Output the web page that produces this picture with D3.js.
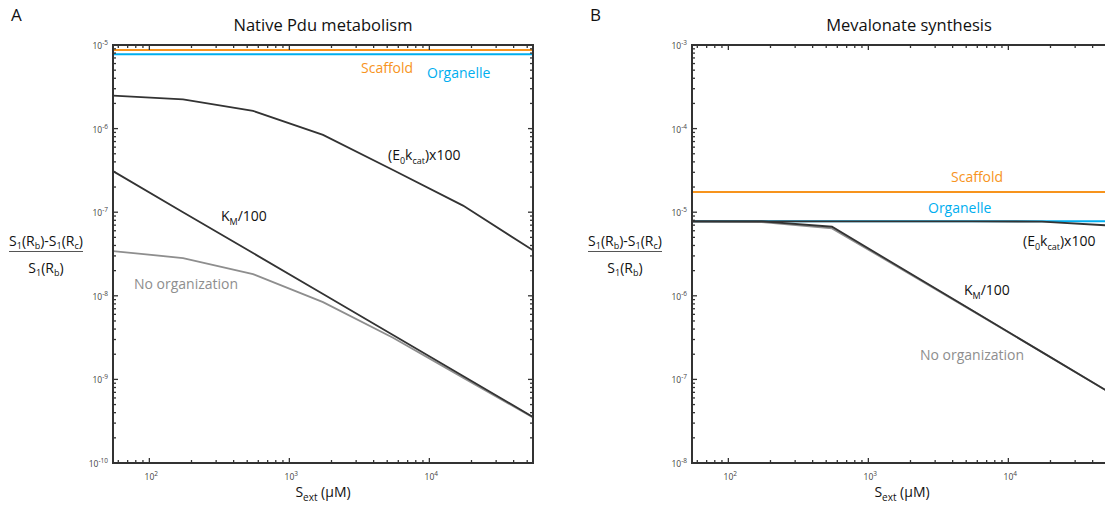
<!DOCTYPE html>
<html>
<head>
<meta charset="utf-8">
<script src="https://cdn.jsdelivr.net/npm/d3@7"></script>
<style>
  body { margin: 0; background: #fff; }
  text { font-family: "Open Sans", "Noto Sans", sans-serif; }
</style>
</head>
<body>
<div id="chart"></div>
<script>
// substrate concentrations (uM), half-decade steps
const sExt = [55, 174, 550, 1740, 5500, 17400, 55000];

// panel A: native Pdu metabolism
const pduScaffold = 8.7e-6;
const pduOrganelle = 7.75e-6;
const pduKcat = [2.48e-6, 2.24e-6, 1.63e-6, 8.4e-7, 3.2e-7, 1.2e-7, 3.5e-8];
const pduKm = [3.1e-7, 1.0e-7, 3.25e-8, 1.05e-8, 3.4e-9, 1.1e-9, 3.55e-10];
const pduNone = [3.43e-8, 2.83e-8, 1.82e-8, 8.4e-9, 3.15e-9, 1.05e-9, 3.5e-10];

// panel B: mevalonate synthesis
const mevScaffold = 1.75e-5;
const mevOrganelle = 7.78e-6;
const mevKcat = [7.78e-6, 7.78e-6, 7.78e-6, 7.78e-6, 7.77e-6, 7.72e-6, 6.9e-6];
const mevKm = [7.78e-6, 7.75e-6, 6.7e-6, 2.12e-6, 6.7e-7, 2.12e-7, 6.7e-8];
const mevNone = [7.7e-6, 7.6e-6, 6.4e-6, 2.07e-6, 6.65e-7, 2.11e-7, 6.7e-8];

const xDomain = [55, 55000];
const pduY = [1e-10, 1e-5];
const mevY = [1e-8, 1e-3];

const width = 1105, height = 508;
const orange = "#f7941d", blue = "#00aeef", dark = "#333", grey = "#8e8e8e";

let svg = d3.select("#chart")
    .append("svg")
    .attr("width", width)
    .attr("height", height);

function panel(opt) {
    const left = opt.left, top = 45, w = 420, h = 418;

    let x = d3.scaleLog().domain(xDomain).range([left, left + w]);
    let y = d3.scaleLog().domain(opt.yDomain).range([top + h, top]);

    let g = svg.append("g");

    g.append("clipPath").attr("id", "clip" + opt.id)
      .append("rect").attr("x", left).attr("y", top).attr("width", w).attr("height", h);

    let plot = g.append("g").attr("clip-path", `url(#clip${opt.id})`);

    // horizontal reference lines
    plot.append("line")
        .attr("x1", left).attr("x2", left + w)
        .attr("y1", y(opt.scaffold)).attr("y2", y(opt.scaffold))
        .attr("stroke", orange).attr("stroke-width", 2);
    plot.append("line")
        .attr("x1", left).attr("x2", left + w)
        .attr("y1", y(opt.organelle)).attr("y2", y(opt.organelle))
        .attr("stroke", blue).attr("stroke-width", 2);

    const line = d3.line().x((d, i) => x(sExt[i])).y(d => y(d));

    plot.append("path").datum(opt.none)
        .attr("d", line).attr("fill", "none")
        .attr("stroke", grey).attr("stroke-width", 1.8);
    plot.append("path").datum(opt.km)
        .attr("d", line).attr("fill", "none")
        .attr("stroke", dark).attr("stroke-width", 1.8);
    plot.append("path").datum(opt.kcat)
        .attr("d", line).attr("fill", "none")
        .attr("stroke", dark).attr("stroke-width", 1.8);

    // ticks on all four sides, pointing in
    const isMajor = v => Math.abs(Math.log10(v) - Math.round(Math.log10(v))) < 1e-6;
    const xt = x.ticks(), yt = y.ticks();

    const tick = (sel, vals, make) => sel.selectAll(null).data(vals).join("line")
        .each(function (d) { make(d3.select(this), d, isMajor(d) ? 5 : 3); })
        .attr("stroke", dark).attr("stroke-width", 1.3);

    let ticks = g.append("g");
    tick(ticks, xt, (s, d, l) => s.attr("x1", x(d)).attr("x2", x(d)).attr("y1", top + h).attr("y2", top + h - l));
    tick(ticks, xt, (s, d, l) => s.attr("x1", x(d)).attr("x2", x(d)).attr("y1", top).attr("y2", top + l));
    tick(ticks, yt, (s, d, l) => s.attr("y1", y(d)).attr("y2", y(d)).attr("x1", left).attr("x2", left + l));
    tick(ticks, yt, (s, d, l) => s.attr("y1", y(d)).attr("y2", y(d)).attr("x1", left + w).attr("x2", left + w - l));

    g.append("rect")
        .attr("x", left).attr("y", top).attr("width", w).attr("height", h)
        .attr("fill", "none").attr("stroke", dark).attr("stroke-width", 2);

    // tick labels 10^n
    const lab = (sel, vals, xf, yf, anchor) => {
        let t = sel.selectAll(null).data(vals.filter(isMajor)).join("text")
            .attr("x", xf).attr("y", yf)
            .attr("text-anchor", anchor)
            .attr("font-size", 8.5).attr("fill", "#444");
        t.append("tspan").text("10");
        t.append("tspan").attr("dy", -4).attr("font-size", 6.5)
            .text(d => Math.round(Math.log10(d)) < 0 ? "-" + Math.abs(Math.round(Math.log10(d))) : Math.round(Math.log10(d)));
    };
    lab(g, xt, d => x(d) + 2, top + h + 17, "middle");
    lab(g, yt, left - 5, d => y(d) + 4, "end");

    // titles and axis labels
    g.append("text").attr("x", opt.titleX).attr("y", 31)
        .attr("text-anchor", "middle").attr("font-size", 16.5).attr("fill", "#111")
        .text(opt.title);
    g.append("text").attr("x", opt.letterX).attr("y", 21)
        .attr("font-size", 17).attr("fill", "#111").text(opt.letter);

    let xl = g.append("text").attr("x", left + w / 2).attr("y", 497)
        .attr("text-anchor", "middle").attr("font-size", 14).attr("fill", "#111");
    xl.append("tspan").text("S");
    xl.append("tspan").attr("dy", 4).attr("font-size", 10).text("ext");
    xl.append("tspan").attr("dy", -4).text(" (μM)");

    // y label as a fraction
    const cx = left - 67;
    let num = g.append("text").attr("x", cx).attr("y", 246)
        .attr("text-anchor", "middle").attr("font-size", 14).attr("fill", "#111");
    num.append("tspan").text("S");
    num.append("tspan").attr("dy", 3).attr("font-size", 9).text("1");
    num.append("tspan").attr("dy", -3).text("(R");
    num.append("tspan").attr("dy", 3).attr("font-size", 9).text("b");
    num.append("tspan").attr("dy", -3).text(")-S");
    num.append("tspan").attr("dy", 3).attr("font-size", 9).text("1");
    num.append("tspan").attr("dy", -3).text("(R");
    num.append("tspan").attr("dy", 3).attr("font-size", 9).text("c");
    num.append("tspan").attr("dy", -3).text(")");
    g.append("line").attr("x1", cx - 37).attr("x2", cx + 37)
        .attr("y1", 251.5).attr("y2", 251.5).attr("stroke", "#555").attr("stroke-width", 1);
    let den = g.append("text").attr("x", cx).attr("y", 273)
        .attr("text-anchor", "middle").attr("font-size", 14).attr("fill", "#111");
    den.append("tspan").text("S");
    den.append("tspan").attr("dy", 3).attr("font-size", 9).text("1");
    den.append("tspan").attr("dy", -3).text("(R");
    den.append("tspan").attr("dy", 3).attr("font-size", 9).text("b");
    den.append("tspan").attr("dy", -3).text(")");

    // curve labels
    const note = (t, xp, yp, col) => g.append("text").attr("x", xp).attr("y", yp)
        .attr("font-size", 14).attr("fill", col).text(t);
    note("Scaffold", opt.lab.scaffold[0], opt.lab.scaffold[1], orange);
    note("Organelle", opt.lab.organelle[0], opt.lab.organelle[1], blue);
    note("No organization", opt.lab.none[0], opt.lab.none[1], grey);

    let kc = g.append("text").attr("x", opt.lab.kcat[0]).attr("y", opt.lab.kcat[1])
        .attr("font-size", 14).attr("fill", "#111");
    kc.append("tspan").text("(E");
    kc.append("tspan").attr("dy", 4).attr("font-size", 9).text("0");
    kc.append("tspan").attr("dy", -4).text("k");
    kc.append("tspan").attr("dy", 4).attr("font-size", 9).text("cat");
    kc.append("tspan").attr("dy", -4).text(")x100");

    let km = g.append("text").attr("x", opt.lab.km[0]).attr("y", opt.lab.km[1])
        .attr("font-size", 14).attr("fill", "#111");
    km.append("tspan").text("K");
    km.append("tspan").attr("dy", 4).attr("font-size", 9).text("M");
    km.append("tspan").attr("dy", -4).text("/100");
}

panel({
    id: "A", left: 113, yDomain: pduY, title: "Native Pdu metabolism", titleX: 323,
    letter: "A", letterX: 11,
    scaffold: pduScaffold, organelle: pduOrganelle,
    kcat: pduKcat, km: pduKm, none: pduNone,
    lab: { scaffold: [361, 73], organelle: [427, 78], none: [134, 289], kcat: [388, 160], km: [221, 221] }
});

panel({
    id: "B", left: 692, yDomain: mevY, title: "Mevalonate synthesis", titleX: 909,
    letter: "B", letterX: 590,
    scaffold: mevScaffold, organelle: mevOrganelle,
    kcat: mevKcat, km: mevKm, none: mevNone,
    lab: { scaffold: [951, 182], organelle: [928, 213], none: [920, 360], kcat: [1023, 246], km: [964, 295] }
});
</script>
</body>
</html>
